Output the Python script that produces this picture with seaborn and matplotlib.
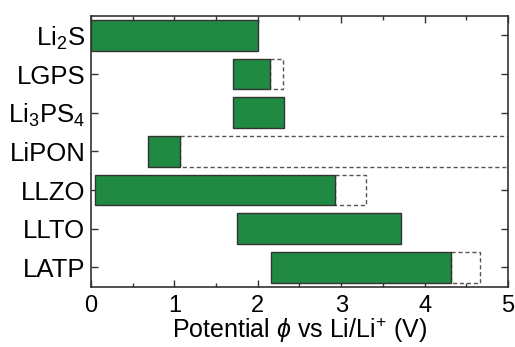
import matplotlib
matplotlib.use("Agg")
import matplotlib.pyplot as plt
import seaborn as sns
import pandas as pd
from matplotlib.ticker import MultipleLocator

categories = ["Li$_2$S", "LGPS", "Li$_3$PS$_4$", "LiPON", "LLZO", "LLTO", "LATP"]
start_v = [0.0, 1.70, 1.70, 0.68, 0.05, 1.75, 2.16]
end_v = [2.00, 2.15, 2.31, 1.07, 2.92, 3.72, 4.32]
ext_v = [None, 2.30, None, 5.00, 3.30, None, 4.66]

sns.set_theme(style="ticks")
plt.rcParams["font.family"] = ["Liberation Sans", "DejaVu Sans"]
plt.rcParams["mathtext.fontset"] = "custom"
plt.rcParams["mathtext.rm"] = "Liberation Sans"
plt.rcParams["mathtext.it"] = "Liberation Sans:italic"
plt.rcParams["mathtext.default"] = "regular"
plt.rcParams["text.color"] = "black"
plt.rcParams["xtick.labelcolor"] = "black"
plt.rcParams["ytick.labelcolor"] = "black"
plt.rcParams["axes.labelcolor"] = "black"

df = pd.DataFrame({"cat": categories, "start": start_v, "end": end_v})

fig = plt.figure(figsize=(5.15, 3.47), dpi=100)
ax = fig.add_axes([0.1767, 0.1738, 0.8097, 0.7801])

# dashed extensions
for i, (e, x) in enumerate(zip(end_v, ext_v)):
    if x is not None:
        ax.barh(i, x - e, left=e, height=0.8, facecolor="white",
                edgecolor="#555555", linestyle=(0, (3, 2)), linewidth=1.0, zorder=1)

sns.barplot(data=df, x="end", y="cat", orient="h", color="#218a42",
            saturation=1, width=0.8, edgecolor="#333333", linewidth=1.0, ax=ax, zorder=2)
for p, s, e in zip(ax.patches[-len(categories):], start_v, end_v):
    p.set_x(s)
    p.set_width(e - s)

ax.set_xlim(0, 5)
ax.set_ylim(6.5, -0.5)
ax.xaxis.set_major_locator(MultipleLocator(1))
ax.xaxis.set_minor_locator(MultipleLocator(0.5))
ax.tick_params(axis="both", which="both", direction="in", top=True, right=True,
               color="#333333")
ax.tick_params(axis="both", which="major", length=5, width=1.0)
ax.tick_params(axis="x", which="minor", length=3, width=1.0)
ax.tick_params(axis="y", which="minor", left=False, right=False)
ax.tick_params(axis="y", labelsize=18.5, pad=4, labelcolor="black")
ax.tick_params(axis="x", labelsize=17, pad=6, labelcolor="black")
for sp in ax.spines.values():
    sp.set_linewidth(1.2)
    sp.set_color("#333333")
ax.set_ylabel("")
ax.set_xlabel(r"Potential $\it{\phi}$ vs Li/Li$^{+}$ (V)", fontsize=18, labelpad=-1,
              color="black")

fig.savefig("out.png", dpi=100)
